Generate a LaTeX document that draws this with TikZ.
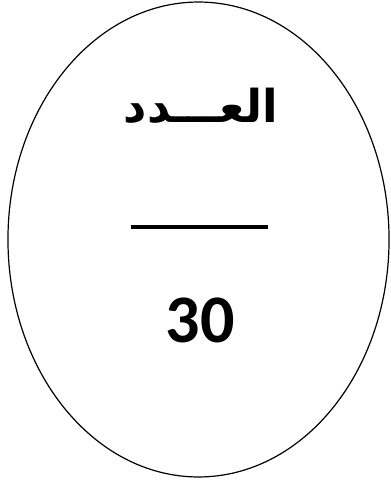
\documentclass[tikz,border=0pt]{standalone}
\usepackage{fontspec}
\TeXXeTstate=1
\newfontfamily\arabicfont[Script=Arabic]{DejaVu Sans}
\newfontfamily\numfont{Carlito}
\begin{document}
\begin{tikzpicture}[x=0.75pt,y=-0.75pt]
\useasboundingbox (0,0) rectangle (390,481);
\coordinate (c) at (198.5,239.5);
\draw[line width=0.9pt] (c) ellipse [x radius=142.9pt, y radius=178.1pt];
\node (title) at (201,106) {\arabicfont\bfseries\fontsize{34}{38}\selectfont\beginR العـــدد\endR};
\coordinate (la) at (131,227);
\coordinate (lb) at (268,227);
\draw[line width=3pt] (la) -- (lb);
\node (num) at (200,320) {\numfont\bfseries\fontsize{51}{58}\selectfont 30};
\end{tikzpicture}
\end{document}
